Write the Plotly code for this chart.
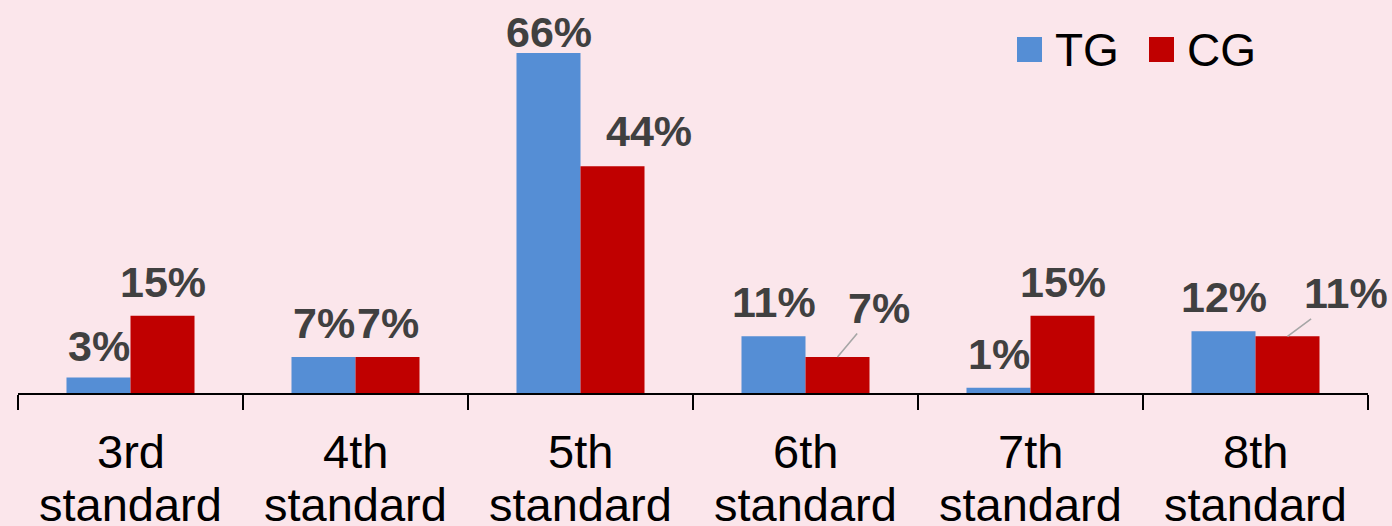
import plotly.graph_objects as go

# Share of students by standard, treatment vs control group (%)
categories = ["3rd standard", "4th standard", "5th standard",
              "6th standard", "7th standard", "8th standard"]
tg_values = [3, 7, 66, 11, 1, 12]
cg_values = [15, 7, 44, 7, 15, 11]
series_names = ["TG", "CG"]

BLUE = "#558ED5"
RED = "#C00000"
BG = "#FBE6EB"
LABEL = "#404040"

# plot-area geometry (pixels)
W, H = 1392, 526
ML, MR, MT, MB = 18, 24, 0, 133
PW, PH = W - ML - MR, H - MT - MB
Y_MAX = 76.3
BAR_HALF = 32  # half of one bar's pixel width, centre offset of each bar

fig = go.Figure()
fig.add_trace(go.Bar(name=series_names[0], x=categories, y=tg_values,
                     marker=dict(color=BLUE, line=dict(width=0)), showlegend=False))
fig.add_trace(go.Bar(name=series_names[1], x=categories, y=cg_values,
                     marker=dict(color=RED, line=dict(width=0)), showlegend=False))

# data-label placement tweaks: (extra x shift, y shift above bar top)
tg_place = {0: (0, 32), 2: (0, 21)}
cg_place = {2: (36, 35)}
# labels joined to their bar by a leader line: (ax, ay)
cg_leader = {3: (41, -49), 5: (58, -43)}

annotations = []
label_font = dict(family="Liberation Sans, Arial, sans-serif", size=43, color=LABEL)
for i, (cat, v) in enumerate(zip(categories, tg_values)):
    dx, dy = tg_place.get(i, (0, 34))
    annotations.append(dict(x=cat, y=v, xref="x", yref="y", text=f"<b>{v}%</b>",
                            showarrow=False, xshift=-BAR_HALF + dx, yshift=dy,
                            font=label_font))
for i, (cat, v) in enumerate(zip(categories, cg_values)):
    if i in cg_leader:
        ax, ay = cg_leader[i]
        annotations.append(dict(x=cat, y=v, xref="x", yref="y", text=f"<b>{v}%</b>",
                                showarrow=True, arrowhead=0, arrowwidth=1.6,
                                arrowcolor="#A6A6A6", standoff=0, ax=ax, ay=ay,
                                xshift=BAR_HALF, font=label_font))
    else:
        dx, dy = cg_place.get(i, (0, 34))
        annotations.append(dict(x=cat, y=v, xref="x", yref="y", text=f"<b>{v}%</b>",
                                showarrow=False, xshift=BAR_HALF + dx, yshift=dy,
                                font=label_font))

# two-line category labels under the axis
cat_font = dict(family="Liberation Sans, Arial, sans-serif", size=47, color="#000000")
for cat in categories:
    first, second = cat.split(" ", 1)
    annotations.append(dict(x=cat, y=0, xref="x", yref="paper", text=first,
                            showarrow=False, yanchor="middle", yshift=-58, font=cat_font))
    annotations.append(dict(x=cat, y=0, xref="x", yref="paper", text=second,
                            showarrow=False, yanchor="middle", yshift=-111, font=cat_font))

# legend drawn as square swatches with text
def px_x(p):
    return (p - ML) / PW

def px_y(p):
    return (H - MB - p) / PH

shapes = []
legend_items = [(series_names[0], BLUE, 1017, 1053), (series_names[1], RED, 1149, 1185)]
for name, color, sx, tx in legend_items:
    shapes.append(dict(type="rect", xref="paper", yref="paper",
                       x0=px_x(sx), x1=px_x(sx + 25), y0=px_y(62), y1=px_y(37),
                       fillcolor=color, line=dict(width=0)))
    annotations.append(dict(x=px_x(tx), y=px_y(50), xref="paper", yref="paper",
                            text=name, showarrow=False, xanchor="left", yanchor="middle",
                            font=dict(family="Liberation Sans, Arial, sans-serif",
                                      size=46, color="#000000")))

fig.update_layout(
    width=W, height=H,
    margin=dict(l=ML, r=MR, t=MT, b=MB),
    paper_bgcolor=BG, plot_bgcolor=BG,
    barmode="group", bargap=0.431, bargroupgap=0,
    annotations=annotations, shapes=shapes,
    showlegend=False,
)
fig.update_xaxes(type="category", range=[-0.5, len(categories) - 0.5],
                 showticklabels=False, showgrid=False,
                 showline=True, linecolor="#000000", linewidth=1.5,
                 ticks="outside", tickson="boundaries", ticklen=15,
                 tickcolor="#000000", tickwidth=1.5, zeroline=False)
fig.update_yaxes(range=[0, Y_MAX], visible=False, showgrid=False, zeroline=False)

fig.write_html("out.html")
